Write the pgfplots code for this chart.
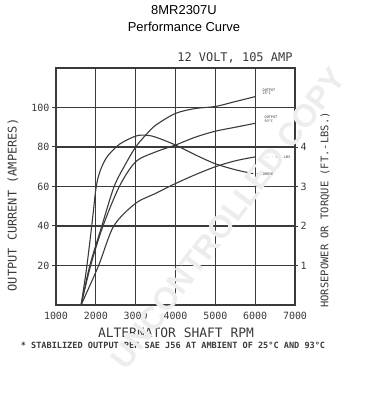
\documentclass[border=0pt]{standalone}
\usepackage{pgfplots}
\pgfplotsset{compat=1.18}
\usepackage{fontspec}
\setmainfont{Liberation Sans}
\newfontfamily\plotfont{DejaVu Sans Mono}
\definecolor{ink}{HTML}{3A3A3A}
\begin{document}
\begin{tikzpicture}[x=1bp,y=1bp]
\path[use as bounding box] (0,0) rectangle (368,400);
\node[font=\fontsize{13}{15}\selectfont] at (184,390) {8MR2307U};
\node[font=\fontsize{13}{15}\selectfont] at (184,373) {Performance Curve};
\begin{axis}[
  at={(56bp,95bp)}, anchor=south west, scale only axis,
  width=239bp, height=237bp,
  xmin=1000, xmax=7000, ymin=0, ymax=120,
  xtick={1000,2000,...,7000}, ytick={20,40,60,80,100},
  ytick pos=left,
  grid=major, grid style={ink, line width=1.1bp},
  axis line style={ink, line width=1.5bp},
  tick align=outside, major tick length=4bp,
  xtick style={draw=none}, ytick style={ink, line width=1bp},
  /pgf/number format/assume math mode=true,
  /pgf/number format/1000 sep={},
  ticklabel style={font=\plotfont\fontsize{10}{12}\selectfont, text=ink},
  yticklabel style={xshift=1bp},
  clip=false,
]
\addplot[ink, line width=1.1bp, smooth, tension=0.5] coordinates {
 (1630,0) (1750,16) (1850,32) (1930,46) (1990,57) (2050,64) (2150,70) (2300,75.5) (2600,81.5) (3000,85.5) (3250,86) (3500,85) (4000,81) (4500,76) (5000,71.5) (5500,68.5) (5950,66.5)};
\addplot[ink, line width=1.1bp, smooth, tension=0.5] coordinates {
 (1630,0) (1850,20) (2150,40) (2460,60) (2750,71.5) (3000,80) (3250,86) (3500,91) (4000,97) (4500,99.5) (5000,100.5) (5500,103) (6000,105.5)};
\addplot[ink, line width=1.1bp, smooth, tension=0.5] coordinates {
 (1630,0) (1870,20) (2180,40) (2590,60) (3000,72.5) (3500,77.5) (4000,81) (4500,85) (5000,88) (5500,90) (6000,92)};
\addplot[ink, line width=1.1bp, smooth, tension=0.5] coordinates {
 (1630,0) (2070,20) (2450,40) (3000,51.5) (3500,56.5) (4000,61.5) (4500,66) (5000,70) (5500,73) (6000,75)};
\node[font=\plotfont\fontsize{3.5}{3.8}\selectfont, align=left, anchor=west, text=ink] at (axis cs:6100,108) {OUTPUT\\25°C};
\node[font=\plotfont\fontsize{3.5}{3.8}\selectfont, align=left, anchor=west, text=ink] at (axis cs:6150,94) {OUTPUT\\93°C};
\node[font=\plotfont\fontsize{3.5}{3.8}\selectfont, anchor=west, text=ink] at (axis cs:6000,75) {-- -- $\cdot$ FT.-LBS};
\node[font=\plotfont\fontsize{3.5}{3.8}\selectfont, anchor=west, text=ink] at (axis cs:5950,66) {+ TORQUE};
\end{axis}
\begin{axis}[
  at={(56bp,95bp)}, anchor=south west, scale only axis,
  width=239bp, height=237bp,
  xmin=1000, xmax=7000, ymin=0, ymax=6,
  axis x line=none, axis y line*=right,
  ytick={1,2,3,4},
  axis line style={ink, line width=1.5bp},
  tick align=outside, major tick length=3bp,
  ytick style={ink, line width=1bp},
  /pgf/number format/assume math mode=true,
  ticklabel style={font=\plotfont\fontsize{10}{12}\selectfont, text=ink},
  yticklabel style={xshift=-1bp},
]
\addplot[draw=none] coordinates {(1000,0) (7000,6)};
\end{axis}
\node[font=\plotfont\fontsize{12}{14}\selectfont, text=ink, anchor=south east] at (296,333) {12 VOLT, 105 AMP};
\node[font=\plotfont\fontsize{12}{14}\selectfont, text=ink, rotate=90] at (13,195) {OUTPUT CURRENT (AMPERES)};
\node[font=\plotfont\fontsize{10.5}{12}\selectfont, text=ink, rotate=90] at (325,190) {HORSEPOWER OR TORQUE (FT.-LBS.)};
\node[font=\plotfont\fontsize{13}{15}\selectfont, text=ink] at (176,67) {ALTERNATOR SHAFT RPM};
\node[font=\plotfont\bfseries\fontsize{8.6}{10}\selectfont, text=ink] at (173,55) {* STABILIZED OUTPUT PER SAE J56 AT AMBIENT OF 25°C AND 93°C};
\node[font=\fontsize{32}{36}\selectfont\bfseries, text=black!7, rotate=53] at (228,182) {UNCONTROLLED COPY};
\end{tikzpicture}
\end{document}
